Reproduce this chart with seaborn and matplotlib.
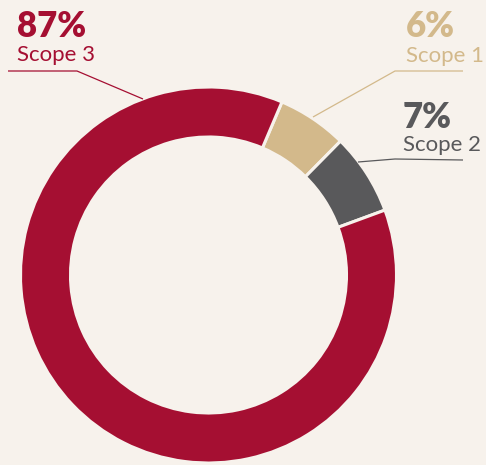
import seaborn as sns
import matplotlib.pyplot as plt

# emissions share by scope
scopes = ['Scope 1', 'Scope 2', 'Scope 3']
shares = [6, 7, 87]
colors = ['#D3B98B', '#59595B', '#A50F32']
text_colors = ['#D3B98B', '#59595B', '#A50F32']

bg = '#F7F2EC'
W, H = 486, 465

sns.set_theme(style='white')
plt.rcParams['font.family'] = ['Lato', 'DejaVu Sans']

fig = plt.figure(figsize=(W / 100, H / 100), dpi=100, facecolor=bg)
ax = fig.add_axes([0, 0, 1, 1])
ax.set_facecolor(bg)

# donut, scope 1 starts a little right of 12 o'clock and runs clockwise
ax.pie(shares, colors=colors, center=(208.5, H - 275), radius=188,
       startangle=67, counterclock=False,
       wedgeprops=dict(width=50, edgecolor=bg, linewidth=2.2))

ax.set_xlim(0, W)
ax.set_ylim(0, H)
ax.set_aspect('equal')
ax.axis('off')

# label positions (x, baseline of pct, baseline of name) and leader lines
label_pos = {'Scope 3': (17, 37, 61), 'Scope 1': (406, 37, 62), 'Scope 2': (403, 128, 151)}
leaders = {
    'Scope 3': [(8, 71), (77, 71), (143, 99)],
    'Scope 1': [(463, 71), (395, 71), (313, 117)],
    'Scope 2': [(463, 160), (395, 159), (358, 162)],
}

for name, val, tc in zip(scopes, shares, text_colors):
    x, y1, y2 = label_pos[name]
    ax.text(x, H - y1, f'{val}%', color=tc, fontsize=25, fontweight='heavy', va='baseline', ha='left')
    ax.text(x, H - y2, name, color=tc, fontsize=16, fontweight='normal', va='baseline', ha='left')
    pts = leaders[name]
    ax.plot([p[0] for p in pts], [H - p[1] for p in pts], color=tc, lw=0.9, solid_capstyle='butt')

fig.savefig('out.png', dpi=100, facecolor=bg)
